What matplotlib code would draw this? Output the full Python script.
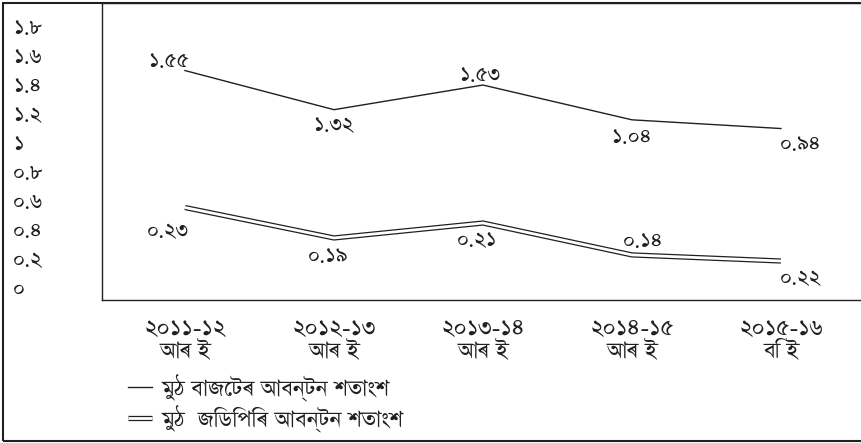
import matplotlib
matplotlib.use('Agg')
import matplotlib.pyplot as plt
import matplotlib.patheffects as pe
from matplotlib.patches import Rectangle

plt.rcParams['font.family'] = ['FreeSerif', 'Lohit Bengali', 'DejaVu Sans']

# categories (year + estimate type)
years = ['২০১১-১২', '২০১২-১৩', '২০১৩-১৪', '২০১৪-১৫', '২০১৫-১৬']
est_type = ['আৰ ই', 'আৰ ই', 'আৰ ই', 'আৰ ই', 'বি ই']

# line heights as drawn in the picture (read against the left scale)
budget_share = [1.50, 1.23, 1.40, 1.16, 1.10]
gdp_share = [0.555, 0.345, 0.448, 0.228, 0.186]

# printed value labels
budget_labels = ['১.৫৫', '১.৩২', '১.৫৩', '১.০৪', '০.৯৪']
gdp_labels = ['০.২৩', '০.১৯', '০.২১', '০.১৪', '০.২২']

yticks = [0, 0.2, 0.4, 0.6, 0.8, 1.0, 1.2, 1.4, 1.6, 1.8]
ytick_labels = ['০', '০.২', '০.৪', '০.৬', '০.৮', '১', '১.২', '১.৪', '১.৬', '১.৮']

legend_labels = ['মুঠ বাজেটৰ আবন্টন শতাংশ', 'মুঠ  জিডিপিৰ আবন্টন শতাংশ']

ink = '#231f20'
fs = 17.5
fs_big = 19

fig = plt.figure(figsize=(8.62, 4.43), dpi=100)
ax = fig.add_axes([102 / 862, 1 - 300 / 443, 1 - 102 / 862, 297 / 443])

x = list(range(len(years)))
l1, = ax.plot(x, budget_share, color=ink, lw=1.0, label=legend_labels[0])
l2, = ax.plot(x, gdp_share, color='white', lw=2.0, solid_capstyle='butt',
              label=legend_labels[1],
              path_effects=[pe.Stroke(linewidth=3.8, foreground=ink, capstyle='butt'), pe.Normal()])

# label offsets in points (layout only)
budget_off = [(-12, 6), (0, -12), (-2, 6), (0, -13), (14, -12)]
gdp_off = [(-12, -18), (-4, -14), (-4, -13), (8, 9), (14, -13)]
for i in x:
    ax.annotate(budget_labels[i], (i, budget_share[i]), xytext=budget_off[i],
                textcoords='offset points', ha='center', va='center',
                fontsize=fs, color=ink)
    ax.annotate(gdp_labels[i], (i, gdp_share[i]), xytext=gdp_off[i],
                textcoords='offset points', ha='center', va='center',
                fontsize=fs, color=ink)

ax.set_xlim(-0.557, 4.544)
ax.set_ylim(-0.083, 1.966)

ax.set_xticks(x)
ax.set_xticklabels([y + '\n' + t for y, t in zip(years, est_type)],
                   fontsize=fs_big, color=ink, linespacing=0.95)
ax.set_yticks(yticks)
ax.set_yticklabels(ytick_labels, fontsize=fs, color=ink, ha='left')
ax.tick_params(axis='both', length=0)
ax.tick_params(axis='y', pad=64)
ax.tick_params(axis='x', pad=13)

for s in ['left', 'top', 'bottom']:
    ax.spines[s].set_color(ink)
    ax.spines[s].set_linewidth(1.0)
ax.spines['right'].set_visible(False)

fig.legend(handles=[l1, l2], loc='upper left', bbox_to_anchor=(128 / 862, 1 - 375 / 443),
           frameon=False, fontsize=fs_big, handlelength=0.9, handletextpad=0.35,
           labelspacing=0.15, borderpad=0, borderaxespad=0, labelcolor=ink)

# outer frame
fig.add_artist(Rectangle((3 / 862, 2 / 443), 1.1, 1 - 5 / 443, transform=fig.transFigure,
                         fill=False, lw=1.5, edgecolor=ink, clip_on=False))

fig.savefig('out.png', dpi=100)
